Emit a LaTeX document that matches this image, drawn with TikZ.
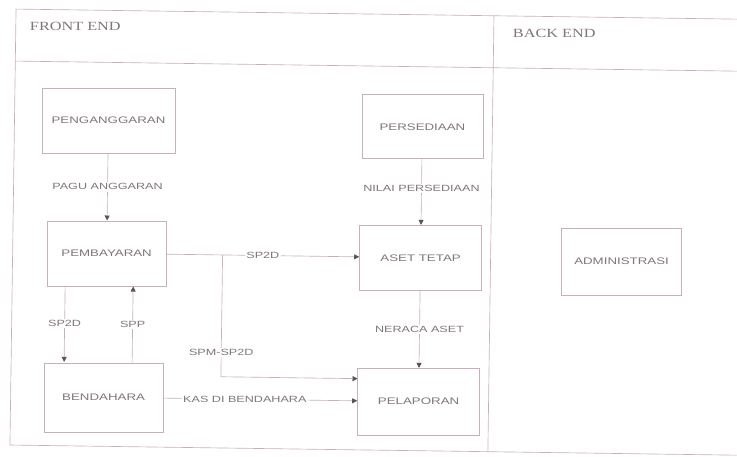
\documentclass[tikz,border=0pt]{standalone}
\usepackage{fontspec}
\setmainfont{Liberation Serif}[FakeStretch=1.3]
\newfontfamily\boxfont{Liberation Sans}[FakeStretch=1.4]
\usetikzlibrary{arrows.meta}
\definecolor{rule}{RGB}{200,176,186}
\definecolor{ink}{RGB}{128,118,124}
\definecolor{tip}{RGB}{90,84,88}

\begin{document}
\begin{tikzpicture}[x=1pt,y=-1pt,
  unit/.style={draw=rule, line width=0.65pt, minimum width=120pt, minimum height=66pt,
    inner sep=0pt, text=ink, font=\boxfont\fontsize{9.5}{11}\selectfont},
  flow/.style={draw=rule, line width=0.65pt,
    -{Triangle[length=5pt,width=5pt,color=tip]}},
  tag/.style={fill=white, inner sep=1.5pt, text=ink, font=\boxfont\fontsize{9}{11}\selectfont},
  head/.style={anchor=west, inner sep=0pt, text=ink, font=\fontsize{12.5}{14}\selectfont},
  lane/.style={draw=rule, line width=0.65pt}
]
\useasboundingbox (0,0) rectangle (737,456);
\fill[white] (0,0) rectangle (737,456);
\clip (0,0) rectangle (737,456);

\begin{scope}[rotate around={-0.8:(368,228)}]
  % swimlane frame
  \draw[lane] (760,14) -- (13,14) -- (13,450) -- (760,450);
  \draw[lane] (13,66) -- (760,66);
  \draw[lane] (491,14) -- (491,450);
  \node[head] (fe) at (27,31) {FRONT END};
  \node[head] (be) at (510,31) {BACK END};

  % front end units
  \node[unit, minimum width=133pt, minimum height=65pt] (angg) at (107,124) {PENGANGGARAN};
  \node[unit, minimum width=119pt, minimum height=65pt] (bayar) at (107,257) {PEMBAYARAN};
  \node[unit, minimum width=119pt, minimum height=69pt] (benda) at (106,401) {BENDAHARA};
  \node[unit, minimum width=121pt, minimum height=64pt] (persed) at (421,126) {PERSEDIAAN};
  \node[unit, minimum width=122pt, minimum height=65pt] (aset) at (421,257) {ASET TETAP};
  \node[unit, minimum width=122pt, minimum height=67pt] (lapor) at (421,401) {PELAPORAN};

  % back end unit
  \node[unit, minimum width=120pt, minimum height=67pt] (admin) at (622,258) {ADMINISTRASI};

  % helper coordinates
  \coordinate (colA) at (66,0);
  \coordinate (colB) at (134,0);
  \coordinate (split) at (223,257);
  \path (lapor.west) ++(0,-23) coordinate (inlet);

  % flows
  \draw[flow] (angg) -- node[tag] {PAGU ANGGARAN} (bayar);
  \draw[flow] (persed) -- node[tag, pos=0.45] {NILAI PERSEDIAAN} (aset);
  \draw[flow] (aset) -- node[tag] {NERACA ASET} (lapor);
  \draw[flow] (bayar) -- node[tag] {SP2D} (aset);
  \draw[flow] (split) |- node[tag, pos=0.4] {SPM-SP2D} (inlet);
  \draw[flow] (colA |- bayar.south) -- node[tag] {SP2D} (colA |- benda.north);
  \draw[flow] (colB |- benda.north) -- node[tag] {SPP} (colB |- bayar.south);
  \draw[flow] (benda) -- node[tag, pos=0.42] {KAS DI BENDAHARA} (lapor);
\end{scope}
\end{tikzpicture}
\end{document}
